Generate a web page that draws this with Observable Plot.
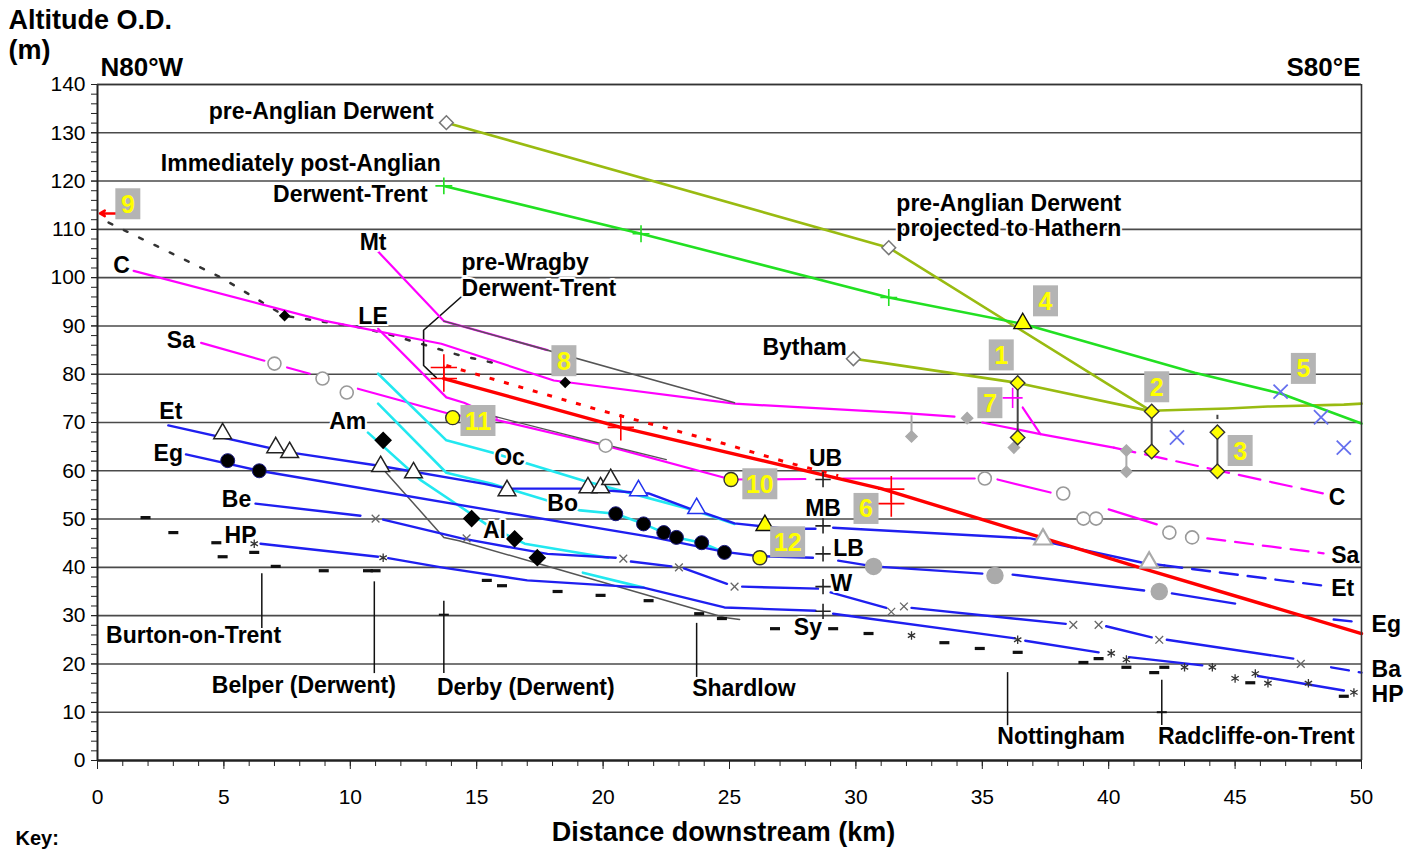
<!DOCTYPE html>
<html><head><meta charset="utf-8">
<script src="https://cdn.jsdelivr.net/npm/d3@7"></script>
<script src="https://cdn.jsdelivr.net/npm/@observablehq/plot@0.6"></script>
<style>body{margin:0;background:#fff;} #chart svg{display:block;}</style>
</head><body><div id="chart"></div>
<script>
// ---------- DATA (km downstream, altitude m O.D.) ----------
const yGrid = d3.range(10, 141, 10);
const yMinor = d3.range(0, 141, 2);
const yMajor = d3.range(0, 141, 10);
const xMinor = d3.range(0, 51, 1);
const xMajor = d3.range(0, 51, 5);

const preAnglianDerwent = [[13.8,132.1],[31.3,106.2],[41.7,72.3]];
const bythamLine = [[29.9,83.2],[31,82.4],[36.4,78.2],[41.7,72.3],[42,72.5],[43.3,72.7],[44.7,72.9],[46.3,73.3],[49.3,73.7],[50,73.9]];
const postAnglian = [[13.7,119],[21.5,109.1],[31.3,95.9],[36.7,90.3],[43.4,80.3],[46.8,76],[50,69.8]];
const redSolid = [[13.7,79.1],[20.7,69],[31,56.3],[41.2,40],[50,26.3]];
const redDotted = [[13.8,81.8],[19.9,72.5],[24.8,65.6],[27.3,61.7],[29.3,59]];
const blackDotted = [[0.44,111.4],[4.9,100],[7.4,92.1],[10.5,89.6],[11.7,88],[14.4,83.8],[15.8,82.2]];
const redArrow = [[0.75,113.3,0.1,113.3]];

const cLine = [[1.43,101.4],[8.95,91.1],[13.6,86.3],[18.05,78.7],[25.2,73.9],[31.8,72],[33.9,71.2],null,[35,70],[37.3,67.6],[40.2,64.8]];
const cDashed = [[40.2,64.8],[48.5,55.3]];
const mtLine = [[11.1,105.4],[13.7,91],[17.8,85]];
const leLine = [[11.1,89.4],[13.8,75.2],[14.5,74.1],[15.8,71]];
const saLine = [[4.1,86.5],[6.6,82.8],null,[7.5,81.4],[8.4,80.1],null,[10.3,77],[14.05,71.6],[15.8,70.5],[20.1,65.2],[25.06,58.2],[28,58.3],null,[29.5,58.4],[34.7,58.4],null,[35.6,58.2],[37.7,55.5],null,[40,52],[41.9,48.9]];
const saDashed = [[43.9,46],[48.5,42.9]];
const magenta7 = [[36.6,73.1],[37.3,67.6]];

const mtGray = [[13.7,91],[25.2,74.1]];
const amGray = [[11.2,60.9],[13.7,46.2],[14.3,45.5],[17.7,40.4],[24.8,29.6],[25.4,29.2]];
const saGray = [[15.6,71.4],[20.1,65.4],[22.5,62.3]];
const wragbyBracket = [[14.45,96.3],[12.9,89.1],[12.9,81.8],[13.4,79.3]];

const ocLine = [[11.1,80.1],[13.8,66.3],[15.6,63.8],[17,61.5],[19.2,58],[23.6,51.8],[25.2,49]];
const boLine = [[11.1,73.9],[13.8,59.6],[15.6,57.3],[19.1,51.8],[20.5,51.1],[21.6,49],[22.4,47.2],[22.9,46.2],[23.9,45.1],[24.8,43.1]];
const amLine = [[10.7,67.9],[12.8,58],[14.4,52.4],[15.5,48.5],[16.9,44.9],[20.2,42]];
const amLower = [[19.2,38.9],[21.6,35.8]];

const etLine = [[2.8,69.4],[7.6,63.8],[11.2,61],[15.3,57.3],[16.2,56.3],[19.1,56.3],[21.8,55.3],[23.4,52.2],[24,51.3],[25.2,49.1],[27.2,48],[28.4,48],null,[29.1,48.2],[36.9,46],[41.3,41],[42.2,40.4]];
const etDashed = [[42.2,40.4],[48.5,36.2]];
const egLine = [[3.5,63.4],[6.4,60],[15.6,51.8],[22,46.2],[24.8,43.2],[26.2,42.3],[28.3,42],null,[29.3,41.4],[30.7,40.2],[35,38.7],null,[36.2,38.5],[41.4,35.2],null,[42.5,34.6],[45,32.5]];
const egDashed = [[48.9,29.2],[50,28.6]];
const beLine = [[6.25,53.2],[10.4,50.7],null,[11.3,49.9],[14.4,46],[16.4,44.1],[17.8,42.8],[20.5,42],null,[21.1,41.2],[22.7,40.2],null,[23.2,39.8],[24.9,36.6],null,[25.5,36],[28.5,35.6],null,[29,34.8],[31.2,31.6],null,[32.2,31.6],[38.3,28.3],null,[39.9,27.8],[41.7,25.5],null,[42.3,25],[47.3,21.1]];
const baDashed = [[48.8,19.3],[50,18.2]];
const hpLine = [[6.45,44.9],[11.1,42.2],null,[11.5,41.9],[13.6,40],[17,37.3],[21.6,35.8],[24.8,31.7],[28.4,31],null,[29.1,30.4],[36.3,25.3],null,[36.7,24.8],[39.6,22.4],null,[40.8,21.4],[43.7,19.7],null,[45.9,17.5],[49.3,14.5]];

const townLines = [[6.5,38.7,27],[10.95,37,18],[13.7,33,18],[23.7,28.4,17.2],[36,18.2,7.2],[42.1,16.6,7.2]];
const townTicks = [[13.7,30.2],[42.1,10]];

const openDiamonds = [[13.8,132.1],[31.3,106.2],[29.9,83.2]];
const greenPlus = [[13.7,119],[21.5,109.1],[31.3,95.9]];
const redPlus = [[13.7,81.4],[13.7,79.1],[20.7,69],[31.4,56.2],[31.4,53.2]];
const terracePlus = [[28.7,58.2],[28.7,48.6],[28.7,42.8],[28.7,36],[28.7,30.9]];
const magentaPlus = [[36.2,75.1]];
const blueCross = [[46.8,76.4],[48.4,71.1],[42.7,66.9],[49.3,64.8]];
const yellowTriangles = [[36.6,90.5],[26.4,48.7]];
const yellowDiamonds = [[36.4,78.2],[36.4,66.9],[41.7,72.3],[41.7,64],[44.3,68],[44.3,59.9]];
const yellowCircles = [[14.05,71],[25.06,58.2],[26.2,42]];
const yellowStems = [[36.4,78.2,66.9],[41.7,72.3,64],[44.3,68,59.9],[44.3,71.5,70.6]];
const grayDiamonds = [[32.2,67.1],[34.4,70.9],[36.25,64.8],[40.7,64.2],[40.7,59.8]];
const grayStems = [[32.2,71.4,67.1],[40.7,64.2,59.8]];
const openCircles = [[7,82.2],[8.9,79.1],[9.86,76.2],[20.1,65.2],[35.1,58.4],[38.2,55.3],[39,50.1],[39.5,50.1],[42.4,47.2],[43.3,46.2]];
const openTrianglesBlack = [[4.95,67.7],[7.05,64.8],[7.6,63.8],[11.2,60.9],[12.5,59.6],[16.2,55.9],[19.4,56.5],[19.9,56.5],[20.3,58.2]];
const openTrianglesBlue = [[21.4,55.9],[23.7,52.2]];
const openTrianglesGray = [[37.4,45.8],[41.6,41]];
const blackCircles = [[5.15,62.1],[6.4,60],[20.5,51.1],[21.6,49],[22.4,47.2],[22.9,46.2],[23.9,45.1],[24.8,43.1]];
const grayCircles = [[30.7,40.2],[35.5,38.3],[42,35]];
const blackDiamondsBig = [[11.3,66.3],[14.8,50.1],[16.5,45.9],[17.4,42]];
const blackDiamondsSmall = [[7.4,92.1],[18.5,78.3]];
const grayCrosses = [[11,50.1],[14.6,46],[20.8,41.8],[23,40],[25.2,36],[31.4,30.8],[31.9,31.9],[38.6,28.1],[39.6,28.1],[42,25],[47.6,20]];
const asterisks = [[6.2,44.9],[11.3,42],[32.2,25.9],[36.4,25],[40.1,22.2],[40.7,20.9],[43,19.3],[44.1,19.3],[45,17],[45.8,18],[46.3,16],[47.9,16],[49.7,14.1]];
const dashes = [[1.9,50.3],[3,47.2],[4.7,45.1],[4.95,42.2],[6.2,43.1],[7.05,40.2],[8.95,39.3],[10.7,39.3],[11.0,39.3],[15.4,37.3],[16,36.2],[18.2,35],[19.9,34.2],[21.8,33.1],[23.8,30.4],[24.7,29.4],[26.8,27.3],[29.1,27.3],[30.5,26.3],[33.5,24.4],[34.9,23.2],[36.4,22.4],[39,20.3],[39.6,21.1],[40.7,19.3],[41.8,18.2],[42.2,19.3],[45.6,16.1],[49.3,13.3]];

const numberBoxes = [["9",1.2,115.3],["8",18.45,82.8],["4",37.5,95.2],["1",35.75,84],["7",35.3,74.1],["2",41.9,77.4],["5",47.7,81.2],["3",45.2,64.2],["11",15.05,70.4],["10",26.2,57.3],["6",30.4,52.2],["12",27.3,45.3]];

const labelsMiddle = [["Immediately post-Anglian",8.04,123.6],["Mt",10.9,107.2],["C",0.95,102.5],["LE",10.9,91.9],["Sa",3.3,87],["Et",2.9,72.3],["Am",9.9,70.2],["Eg",2.8,63.6],["Oc",16.3,62.7],["Be",5.5,54],["Bo",18.4,53.2],["Al",15.7,47.6],["HP",5.66,46.6],["UB",28.8,62.5],["MB",28.7,52.2],["Sy",28.1,27.5],["Bytham",27.97,85.5],["Burton-on-Trent",3.8,25.9],["Belper (Derwent)",8.16,15.5],["Derby (Derwent)",16.94,15.1],["Shardlow",25.57,14.9],["Nottingham",38.12,5.0],["Radcliffe-on-Trent",45.84,5.0]];
const labelsEnd = [["pre-Anglian Derwent",13.3,134.4],["Derwent-Trent",13.06,117.2]];
const labelsStart = [["pre-Wragby",14.4,103.1],["Derwent-Trent",14.4,97.7],["pre-Anglian Derwent",31.6,115.3],["projected to Hathern",31.6,110.1],["LB",29.1,43.9],["W",29.0,36.6],["C",48.7,54.5],["Sa",48.8,42.4],["Et",48.8,35.6],["Eg",50.4,28.2],["Ba",50.4,18.8],["HP",50.4,13.7]];

// ---------- STYLE ----------
const F = "Liberation Sans, Arial, Helvetica, sans-serif";
const OLIVE = "#99bb11", GREEN = "#22e022", MAG = "#ff00ff", RED = "#ff0000", CYAN = "#22e8f0", BLUE = "#1f1ff0";
const X = d => d ? d[0] : NaN, Y = d => d ? d[1] : NaN;
const ln = (data, stroke, strokeWidth, extra = {}) => Plot.line(data, {x: X, y: Y, stroke, strokeWidth, ...extra});
const dt = (data, opts) => Plot.dot(data, {x: X, y: Y, ...opts});
const boxSym = (w, h) => ({draw(ctx) { ctx.rect(-w / 2, -h / 2, w, h); }});
const dashSym = {draw(ctx) { ctx.moveTo(-5, 0); ctx.lineTo(5, 0); }};
const lbl = (data, anchor) => Plot.text(data, {x: d => d[1], y: d => d[2], text: d => d[0], textAnchor: anchor, lineAnchor: "middle", fontSize: 23, fontWeight: "bold", fill: "black", stroke: "white", strokeWidth: 4});
const title = (t, anchor, dx, dy, size, ta) => Plot.text([t], {frameAnchor: anchor, dx, dy, textAnchor: ta, lineAnchor: "middle", fontSize: size, fontWeight: "bold"});

const chart = Plot.plot({
  width: 1415, height: 850,
  marginLeft: 97, marginRight: 54, marginTop: 84, marginBottom: 90,
  x: {domain: [0, 50]},
  y: {domain: [0, 140]},
  style: {fontFamily: F, background: "white", color: "black"},
  marks: [
    Plot.ruleY(yGrid, {stroke: "#4a4a4a", strokeWidth: 1.6}),
    Plot.ruleX(townLines, {x: d => d[0], y1: d => d[1], y2: d => d[2], stroke: "#111", strokeWidth: 1.5}),
    dt(townTicks, {symbol: dashSym, stroke: "#111", strokeWidth: 2, fill: "none"}),
    ln(blackDotted, "#333", 2.5, {strokeDasharray: "4,13"}),
    ln(wragbyBracket, "#111", 1.6),
    ln(preAnglianDerwent, OLIVE, 2.6),
    ln(bythamLine, OLIVE, 2.6),
    ln(postAnglian, GREEN, 2.6),
    ln(mtLine, MAG, 2.2),
    ln(cLine, MAG, 2.2),
    ln(cDashed, MAG, 2.2, {strokeDasharray: "22,10"}),
    ln(leLine, MAG, 2.2),
    ln(saLine, MAG, 2.2),
    ln(saDashed, MAG, 2.2, {strokeDasharray: "18,10"}),
    ln(magenta7, MAG, 2.2),
    ln(mtGray, "#555", 1.5),
    ln(saGray, "#555", 1.3),
    ln(ocLine, CYAN, 2.6),
    ln(boLine, CYAN, 2.6),
    ln(amLine, CYAN, 2.6),
    ln(amLower, CYAN, 2.6),
    ln(amGray, "#555", 1.5),
    ln(etLine, BLUE, 2.4),
    ln(etDashed, BLUE, 2.4, {strokeDasharray: "18,10"}),
    ln(egLine, BLUE, 2.4),
    ln(egDashed, BLUE, 2.4, {strokeDasharray: "18,10"}),
    ln(beLine, BLUE, 2.4),
    ln(baDashed, BLUE, 2.4, {strokeDasharray: "18,10"}),
    ln(hpLine, BLUE, 2.4),
    ln(redDotted, RED, 3, {strokeDasharray: "5,10", strokeLinecap: "butt"}),
    ln(redSolid, RED, 3.4),
    Plot.arrow(redArrow, {x1: d => d[0], y1: d => d[1], x2: d => d[2], y2: d => d[3], stroke: RED, strokeWidth: 2.5, headLength: 9}),
    Plot.ruleX(grayStems, {x: d => d[0], y1: d => d[1], y2: d => d[2], stroke: "#aaa", strokeWidth: 2}),
    Plot.ruleX(yellowStems, {x: d => d[0], y1: d => d[1], y2: d => d[2], stroke: "#444", strokeWidth: 2}),
    dt(dashes, {symbol: dashSym, stroke: "#111", strokeWidth: 3.2, fill: "none"}),
    dt(grayCrosses, {symbol: "times", r: 3.6, stroke: "#666", strokeWidth: 1.3}),
    dt(asterisks, {symbol: "asterisk", r: 4, stroke: "#333", strokeWidth: 1.3}),
    dt(openDiamonds, {symbol: "diamond2", r: 6.2, stroke: "#777", strokeWidth: 1.5, fill: "white"}),
    dt(greenPlus, {symbol: "plus", r: 5.5, stroke: GREEN, strokeWidth: 1.6}),
    dt(redPlus, {symbol: "plus", r: 8.5, stroke: RED, strokeWidth: 1.6}),
    dt(terracePlus, {symbol: "plus", r: 5, stroke: "#222", strokeWidth: 1.6}),
    dt(magentaPlus, {symbol: "plus", r: 6.5, stroke: MAG, strokeWidth: 1.6}),
    dt(blueCross, {symbol: "times", r: 6.5, stroke: "#6670ee", strokeWidth: 1.8}),
    dt(grayDiamonds, {symbol: "diamond2", r: 5, fill: "#aaa", stroke: "#aaa"}),
    dt(openCircles, {symbol: "circle", r: 6.5, stroke: "#999", strokeWidth: 1.6, fill: "white"}),
    dt(openTrianglesBlack, {symbol: "triangle", r: 6.6, stroke: "#222", strokeWidth: 1.5, fill: "white"}),
    dt(openTrianglesBlue, {symbol: "triangle", r: 6.6, stroke: "#2233ee", strokeWidth: 1.5, fill: "white"}),
    dt(openTrianglesGray, {symbol: "triangle", r: 6.6, stroke: "#aaa", strokeWidth: 2.2, fill: "white"}),
    dt(blackCircles, {symbol: "circle", r: 7, fill: "#000", stroke: "#1a1a80", strokeWidth: 1}),
    dt(grayCircles, {symbol: "circle", r: 8, fill: "#aaa", stroke: "#aaa"}),
    dt(blackDiamondsBig, {symbol: "diamond2", r: 7, fill: "#000", stroke: "#000"}),
    dt(blackDiamondsSmall, {symbol: "diamond2", r: 4.2, fill: "#000", stroke: "#000"}),
    dt(yellowDiamonds, {symbol: "diamond2", r: 6.5, fill: "#ffff00", stroke: "#333", strokeWidth: 1.4}),
    dt(yellowTriangles, {symbol: "triangle", r: 6.6, fill: "#ffff00", stroke: "#111", strokeWidth: 1.4}),
    dt(yellowCircles, {symbol: "circle", r: 7, fill: "#ffff00", stroke: "#333", strokeWidth: 1.4}),
    Plot.dot(numberBoxes.filter(d => d[0].length === 1), {x: d => d[1], y: d => d[2], symbol: boxSym(25, 31), fill: "#b4b4b4", stroke: "none"}),
    Plot.dot(numberBoxes.filter(d => d[0].length === 2), {x: d => d[1], y: d => d[2], symbol: boxSym(35, 31), fill: "#b4b4b4", stroke: "none"}),
    Plot.text(numberBoxes, {x: d => d[1], y: d => d[2], text: d => d[0], fill: "#ffff00", fontSize: 25, fontWeight: "bold", dy: 1}),
    lbl(labelsMiddle, "middle"),
    lbl(labelsEnd, "end"),
    lbl(labelsStart, "start"),
    Plot.ruleX([0], {stroke: "#222", strokeWidth: 2}),
    Plot.ruleX([50], {stroke: "#333", strokeWidth: 1.6}),
    Plot.ruleY([140], {stroke: "#333", strokeWidth: 1.6}),
    Plot.ruleY([0], {stroke: "#222", strokeWidth: 2.4}),
    Plot.axisY({ticks: yMinor, tickSize: 6, tickFormat: () => "", label: null, stroke: "#222"}),
    Plot.axisY({ticks: yMajor, tickSize: 6, tickPadding: 6, fontSize: 21, label: null, stroke: "#222"}),
    Plot.axisX({ticks: xMinor, tickSize: 6, tickFormat: () => "", label: null, stroke: "#222"}),
    Plot.axisX({ticks: xMajor, tickSize: 9, tickPadding: 20, fontSize: 21, label: null, stroke: "#222"}),
    title("Altitude O.D.", "top-left", -89, -64, 27, "start"),
    title("(m)", "top-left", -89, -34, 27, "start"),
    title("N80°W", "top-left", 3, -17, 26, "start"),
    title("S80°E", "top-right", -1, -17, 26, "end"),
    title("Distance downstream (km)", "bottom", -6, 72, 27, "middle"),
    title("Key:", "bottom-left", -82, 78, 20, "start")
  ]
});
document.getElementById("chart").append(chart);
</script></body></html>
